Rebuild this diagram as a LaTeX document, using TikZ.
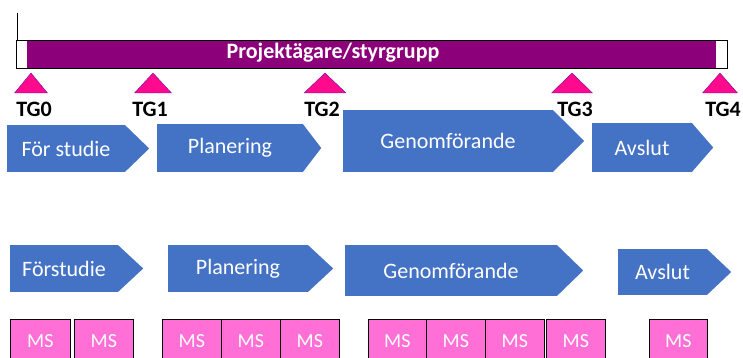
\documentclass[tikz,border=0pt]{standalone}
\usepackage{fontspec}
\setmainfont{Carlito}
\usetikzlibrary{positioning,calc}
\definecolor{phblue}{RGB}{68,114,196}
\definecolor{sgpurple}{RGB}{140,0,122}
\definecolor{tgpink}{RGB}{255,10,140}
\definecolor{mspink}{RGB}{255,111,214}
\tikzset{
  phase/.style={fill=phblue, text=white, inner sep=0pt, font=\fontsize{22}{26}\selectfont},
  tip/.style={fill=phblue},
  tgmark/.style={fill=tgpink, draw=sgpurple!60!blue, line width=0.3pt},
  tglabel/.style={font=\fontsize{22}{26}\selectfont\bfseries},
  msbox/.style={draw, line width=0.6pt, fill=mspink, text=white, minimum height=44pt, inner sep=0pt, anchor=north west, font=\fontsize{20}{24}\selectfont}
}

\begin{document}
\begin{tikzpicture}[x=1pt, y=-1pt]
    \useasboundingbox (0,0) rectangle (743,358);
    % steering group bar
    \draw[line width=0.6pt] (17,13) -- (17,40);
    \fill[sgpurple] (27,40) rectangle (716,68);
    \draw[line width=0.6pt] (16,40) rectangle (727,68);
    \node[text=white, font=\fontsize{22}{26}\selectfont\bfseries] (sg) at (333,53) {Projektägare/styrgrupp};
    % tollgates
    \foreach \x/\w/\lx/\n in {31/33/34/0, 153/37/150/1, 325/42/322/2, 572/41/575/3, 720/35/723/4} {
      \draw[tgmark] (\x-\w/2,93) -- (\x,73) -- (\x+\w/2,93) -- cycle;
      \node[tglabel] (tg\n) at (\lx,109) {TG\n};
    }
    % phases, first row
    \node[phase, minimum width=118pt, minimum height=47pt] (fs1) at (66,148.5) {För studie};
    \node[phase, minimum width=146pt, minimum height=48pt] (pl1) at (230,148) {Planering};
    \node[phase, minimum width=210pt, minimum height=62pt] (ge1) at (448,141) {Genomförande};
    \node[phase, minimum width=100pt, minimum height=49pt] (av1) at (642,147.5) {Avslut};
    % phases, second row
    \node[phase, minimum width=108pt, minimum height=47pt] (fs2) at (64,268.5) {Förstudie};
    \node[phase, minimum width=140pt, minimum height=47pt] (pl2) at (238,268.5) {Planering};
    \node[phase, minimum width=212pt, minimum height=51pt] (ge2) at (451,270.5) {Genomförande};
    \node[phase, minimum width=89pt, minimum height=46pt] (av2) at (662.5,272) {Avslut};
    \foreach \n/\d in {fs1/24, pl1/18, ge1/31, av1/21, fs2/25, pl2/25, ge2/26, av2/24}
      \fill[tip] ([xshift=-0.5pt]\n.north east) -- ([xshift=\d pt]\n.east) -- ([xshift=-0.5pt]\n.south east) -- cycle;
    % milestones
    \foreach \x/\w [count=\i] in {10/60, 74/59, 162/59, 221/59, 280/59, 368/58, 426/59, 485/59, 546/59, 649/58}
      \node[msbox, minimum width=\w pt] (ms\i) at (\x,319) {MS};
  \end{tikzpicture}
\end{document}
